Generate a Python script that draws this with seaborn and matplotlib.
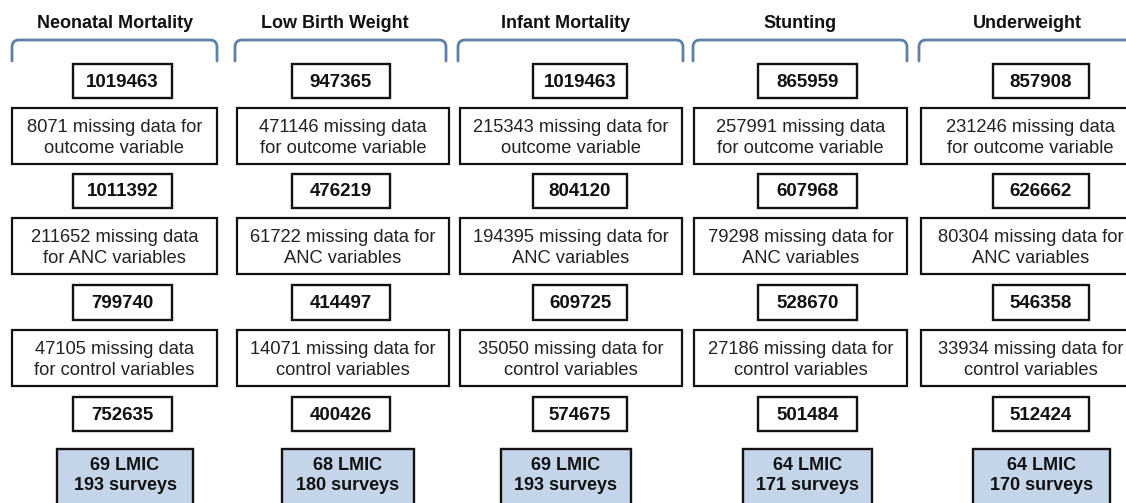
import matplotlib
matplotlib.use("Agg")
import matplotlib.pyplot as plt
from matplotlib.patches import Rectangle, PathPatch
from matplotlib.path import Path
import seaborn as sns

# ---------------- data ----------------
outcomes = ["Neonatal Mortality", "Low Birth Weight", "Infant Mortality", "Stunting", "Underweight"]
n_initial = [1019463, 947365, 1019463, 865959, 857908]
miss_outcome = [8071, 471146, 215343, 257991, 231246]
n_after_outcome = [1011392, 476219, 804120, 607968, 626662]
miss_anc = [211652, 61722, 194395, 79298, 80304]
n_after_anc = [799740, 414497, 609725, 528670, 546358]
miss_control = [47105, 14071, 35050, 27186, 33934]
n_final = [752635, 400426, 574675, 501484, 512424]
n_lmic = [69, 68, 69, 64, 64]
n_surveys = [193, 180, 193, 171, 170]
# whether "for" stays on the first line of the missing-data text
for_first_outcome = [True, False, True, False, False]
for_first_anc = [False, True, True, True, True]
for_first_control = [False, True, True, True, True]

# ---------------- layout (pixels) ----------------
W, H = 1126, 503
bracket_x = [(12, 217), (235, 446), (458, 683), (693, 907), (919, 1140)]
title_x = [115, 335, 566, 800, 1027]
miss_x = [(12, 217), (237, 449), (460, 682), (694, 907), (921, 1140)]
num_x = [(73, 172), (292, 390), (533, 627), (758, 857), (993, 1089)]
blue_x = [(57, 193), (282, 414), (501, 631), (743, 872), (973, 1110)]
num_rows = [(64, 98), (174, 208), (285, 320), (397, 431)]
miss_rows = [(108, 164), (218, 274), (330, 386)]
blue_row = (449, 525)

BRACKET_C = "#5d80a8"
BLUE_FILL = "#c4d5ea"
EDGE = "#111111"

sns.set_theme(style="white")
plt.rcParams["font.family"] = ["Liberation Sans", "DejaVu Sans"]

fig = plt.figure(figsize=(W / 100, H / 100), dpi=100)
ax = fig.add_axes([0, 0, 1, 1])
ax.set_xlim(0, W)
ax.set_ylim(H, 0)
ax.axis("off")


def box(x0, x1, y0, y1, fc="white", lw=1.6):
    ax.add_patch(Rectangle((x0, y0), x1 - x0, y1 - y0, facecolor=fc,
                           edgecolor=EDGE, linewidth=lw, zorder=2))


def missing_text(n, noun, for_first):
    if for_first:
        return f"{n} missing data for\n{noun}"
    return f"{n} missing data\nfor {noun}"


num_series = [n_initial, n_after_outcome, n_after_anc, n_final]
miss_series = [(miss_outcome, "outcome variable", for_first_outcome),
               (miss_anc, "ANC variables", for_first_anc),
               (miss_control, "control variables", for_first_control)]

for i, name in enumerate(outcomes):
    # title
    ax.text(title_x[i], 23, name, ha="center", va="center", fontsize=13,
            fontweight="bold", color="#111111")
    # bracket
    L, R = bracket_x[i]
    yt, yb, r = 40, 61, 7
    verts = [(L, yb), (L, yt + r), (L, yt), (L + r, yt), (R - r, yt),
             (R, yt), (R, yt + r), (R, yb)]
    codes = [Path.MOVETO, Path.LINETO, Path.CURVE3, Path.CURVE3, Path.LINETO,
             Path.CURVE3, Path.CURVE3, Path.LINETO]
    ax.add_patch(PathPatch(Path(verts, codes), facecolor="none",
                           edgecolor=BRACKET_C, linewidth=2.0, zorder=2,
                           capstyle="round"))
    # number boxes
    for k, series in enumerate(num_series):
        x0, x1 = num_x[i]
        y0, y1 = num_rows[k]
        box(x0, x1, y0, y1, lw=1.7)
        ax.text((x0 + x1) / 2, (y0 + y1) / 2 + 1, f"{series[i]}", ha="center",
                va="center", fontsize=13.5, fontweight="bold", color="#111111",
                zorder=3)
    # missing-data boxes
    for k, (vals, noun, flags) in enumerate(miss_series):
        x0, x1 = miss_x[i]
        y0, y1 = miss_rows[k]
        box(x0, x1, y0, y1, lw=1.6)
        ax.text((x0 + x1) / 2, (y0 + y1) / 2 + 2,
                missing_text(vals[i], noun, flags[i]), ha="center",
                va="center", fontsize=13.2, color="#222222", linespacing=1.25,
                zorder=3)
    # final blue box
    x0, x1 = blue_x[i]
    y0, y1 = blue_row
    box(x0, x1, y0, y1, fc=BLUE_FILL, lw=1.7)
    ax.text((x0 + x1) / 2, 466, f"{n_lmic[i]} LMIC", ha="center", va="center",
            fontsize=13, fontweight="bold", color="#111111", zorder=3)
    ax.text((x0 + x1) / 2, 486, f"{n_surveys[i]} surveys", ha="center",
            va="center", fontsize=13, fontweight="bold", color="#111111",
            zorder=3)

fig.savefig("out.png", dpi=100)
